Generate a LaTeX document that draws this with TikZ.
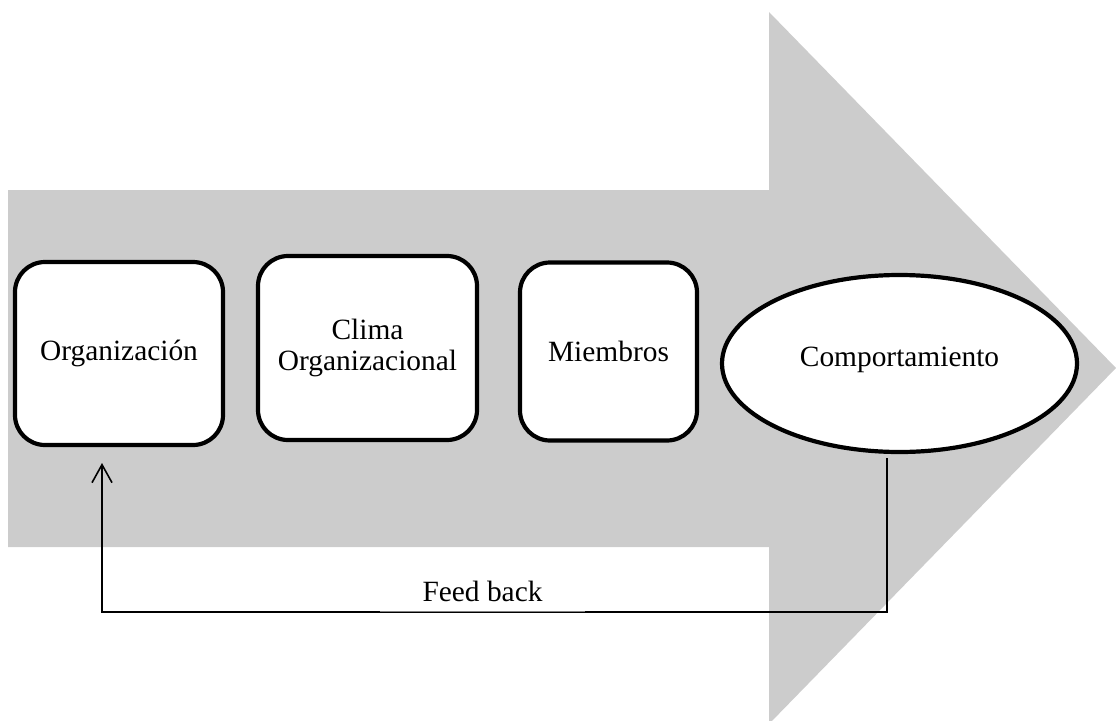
\documentclass[tikz,border=0pt]{standalone}
\usepackage{fontspec}
\setmainfont{Liberation Serif}
\usepackage{tikz}
\usetikzlibrary{shapes.geometric,arrows.meta}

\begin{document}
\begin{tikzpicture}[x=1pt,y=-1pt,
    box/.style={draw, line width=4.2pt, fill=white, rounded corners=30pt,
      font=\fontsize{29.4}{30.5}\selectfont, align=center, inner sep=0pt},
    feedback/.style={line width=1.6pt}]
  \useasboundingbox (0,0) rectangle (1116,720);

  % big grey arrow
  \fill[gray!40] (8,190) -- (769,190) -- (769,12) -- (1116,368)
    -- (769,724) -- (769,547) -- (8,547) -- cycle;

  \node[box, minimum width=208pt, minimum height=183pt] (org) at (119,353.5) {Organización};
  \node[box, minimum width=219pt, minimum height=184pt] (clima) at (367.5,348) {Clima\\Organizacional};
  \node[box, minimum width=177pt, minimum height=178pt] (miem) at (608.5,351.5) {Miembros};
  \node[ellipse, draw, line width=4.2pt, fill=white, inner sep=0pt,
    minimum width=355pt, minimum height=177pt,
    font=\fontsize{29.4}{30.5}\selectfont] (comp) at (899.5,363.5) {\raisebox{14pt}{Comportamiento}};

  \coordinate (fbtop) at (887,458);
  \coordinate (fbR) at (887,612);
  \coordinate (fbL) at (102,612);
  \coordinate (fbend) at (102,463);

  \draw[feedback, -{Straight Barb[length=18pt,width=20pt,line width=1.6pt]}]
    (fbtop) -- (fbR) -- (fbL) -- (fbend);

  \node[fill=white, inner sep=0pt, minimum width=205pt, text height=20pt, text depth=10pt,
    anchor=south, font=\fontsize{29.4}{30.5}\selectfont] (fb) at (482.5,611.5) {Feed back};
  \draw[gray, line width=0.6pt] (fb.south west) -- (fb.south east);
\end{tikzpicture}
\end{document}
